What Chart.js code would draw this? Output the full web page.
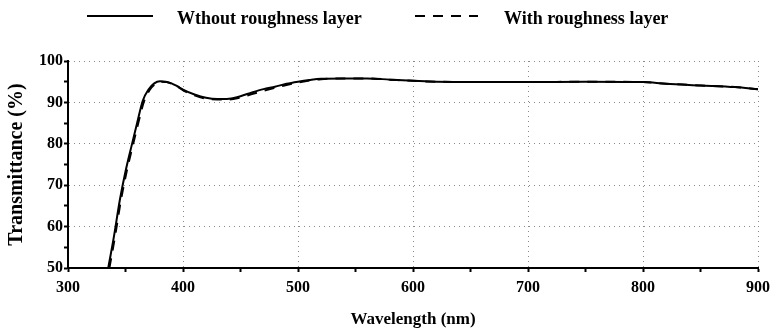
<!DOCTYPE html>
<html>
<head>
<meta charset="utf-8">
<script src="https://cdn.jsdelivr.net/npm/chart.js@4/dist/chart.umd.min.js"></script>
<style>
  html, body { margin: 0; padding: 0; background: #fff; }
  #wrap { width: 771px; height: 331px; position: relative; }
</style>
</head>
<body>
<div id="wrap"><canvas id="c"></canvas></div>
<script>
// ---- Data ----
const seriesNames = ['Wthout roughness layer', 'With roughness layer'];

const wavelengthsSolid = [335, 340, 345, 350, 355, 360, 365, 370, 375, 380, 385, 390, 395, 400, 410, 420, 430, 440, 450, 460, 470, 480, 490, 500, 510, 520, 540, 560, 580, 600, 620, 650, 700, 750, 800, 820, 850, 880, 900];
const transmittanceSolid = [50, 57.7, 66.3, 73.3, 79.2, 84.9, 90.4, 93.1, 94.6, 95.1, 95.0, 94.6, 93.9, 93.1, 91.9, 91.1, 90.8, 90.9, 91.5, 92.4, 93.2, 93.8, 94.5, 95.0, 95.4, 95.7, 95.8, 95.8, 95.5, 95.2, 95.0, 94.9, 94.9, 95.0, 94.9, 94.5, 94.1, 93.7, 93.2];

const wavelengthsDashed = [336, 341, 346, 351, 356, 361, 366, 371, 376, 381, 386, 391, 396, 401, 410, 420, 430, 440, 450, 460, 470, 480, 490, 500, 510, 520, 540, 560, 580, 600, 620, 650, 700, 750, 800, 820, 850, 880, 900];
const transmittanceDashed = [50, 57.8, 66.3, 73.3, 79.2, 84.9, 90.2, 93.0, 94.5, 95.0, 94.9, 94.4, 93.7, 92.8, 91.7, 90.9, 90.7, 90.7, 91.2, 92.0, 92.8, 93.5, 94.2, 94.8, 95.3, 95.6, 95.8, 95.8, 95.5, 95.2, 95.0, 94.9, 94.9, 95.0, 94.9, 94.5, 94.1, 93.7, 93.2];

const xTitle = 'Wavelength (nm)';
const yTitle = 'Transmittance (%)';

// ---- Build datasets ----
const toPoints = (xs, ys) => xs.map((x, i) => ({x: x, y: ys[i]}));

const FONT = 'Liberation Serif, "Times New Roman", serif';

const legendPlugin = {
  id: 'topLegend',
  afterDraw(chart) {
    const ctx = chart.ctx;
    const items = [
      {ds: chart.data.datasets[0], x0: 87, x1: 153, tx: 177},
      {ds: chart.data.datasets[1], x0: 415, x1: 478, tx: 504}
    ];
    ctx.save();
    items.forEach(it => {
      ctx.beginPath();
      ctx.setLineDash(it.ds.borderDash || []);
      ctx.lineWidth = 2;
      ctx.strokeStyle = '#000';
      ctx.moveTo(it.x0, 16);
      ctx.lineTo(it.x1, 16);
      ctx.stroke();
      ctx.setLineDash([]);
      ctx.fillStyle = '#000';
      ctx.font = 'bold 18px ' + FONT;
      ctx.textBaseline = 'middle';
      ctx.textAlign = 'left';
      ctx.fillText(it.ds.label, it.tx, 19);
    });
    ctx.restore();
  }
};

const gridColorX = (c) => {
  const v = c.tick ? c.tick.value : null;
  return (v !== null && v % 100 === 0 && v !== 300) ? '#8a8a8a' : 'rgba(0,0,0,0)';
};
const gridColorY = (c) => {
  const v = c.tick ? c.tick.value : null;
  return (v !== null && v % 10 === 0 && v !== 50) ? '#8a8a8a' : 'rgba(0,0,0,0)';
};

new Chart(document.getElementById('c'), {
  type: 'line',
  data: {
    datasets: [
      {
        label: seriesNames[0],
        data: toPoints(wavelengthsSolid, transmittanceSolid),
        borderColor: '#000',
        borderWidth: 2,
        pointRadius: 0,
        cubicInterpolationMode: 'monotone',
        fill: false
      },
      {
        label: seriesNames[1],
        data: toPoints(wavelengthsDashed, transmittanceDashed),
        borderColor: '#000',
        borderWidth: 2,
        borderDash: [10, 8],
        pointRadius: 0,
        cubicInterpolationMode: 'monotone',
        fill: false
      }
    ]
  },
  options: {
    responsive: true,
    maintainAspectRatio: false,
    animation: false,
    devicePixelRatio: 1,
    layout: { padding: { top: 61, right: 13, left: 0, bottom: 0 } },
    plugins: {
      legend: { display: false },
      tooltip: { enabled: false }
    },
    scales: {
      x: {
        type: 'linear',
        min: 300,
        max: 900,
        afterFit: (s) => { s.height = 63; s.paddingRight = 0; s.paddingLeft = 0; },
        ticks: {
          stepSize: 50,
          autoSkip: false,
          maxRotation: 0,
          padding: 6,
          color: '#000',
          font: { family: FONT, size: 16, weight: 'bold' },
          callback: (v) => (v % 100 === 0 ? String(v) : '')
        },
        grid: {
          color: gridColorX,
          lineWidth: 1,
          tickColor: '#000',
          tickWidth: 2,
          tickLength: 4,
          tickBorderDash: []
        },
        border: { display: true, color: '#000', width: 2, dash: [1, 4] },
        title: {
          display: true,
          text: xTitle,
          color: '#000',
          font: { family: FONT, size: 17, weight: 'bold' },
          padding: { top: 0, bottom: 1 }
        }
      },
      y: {
        min: 50,
        max: 100,
        afterFit: (s) => { s.width = 68; },
        ticks: {
          stepSize: 5,
          autoSkip: false,
          padding: 1,
          color: '#000',
          font: { family: FONT, size: 16, weight: 'bold' },
          callback: (v) => (v % 10 === 0 ? String(v) : '')
        },
        grid: {
          color: gridColorY,
          lineWidth: 1,
          tickColor: '#000',
          tickWidth: 2,
          tickLength: 4,
          tickBorderDash: []
        },
        border: { display: true, color: '#000', width: 2, dash: [1, 4] },
        title: {
          display: true,
          text: yTitle,
          color: '#000',
          font: { family: FONT, size: 20, weight: 'bold' },
          padding: { top: 5, bottom: 0 }
        }
      }
    }
  },
  plugins: [legendPlugin]
});
</script>
</body>
</html>
